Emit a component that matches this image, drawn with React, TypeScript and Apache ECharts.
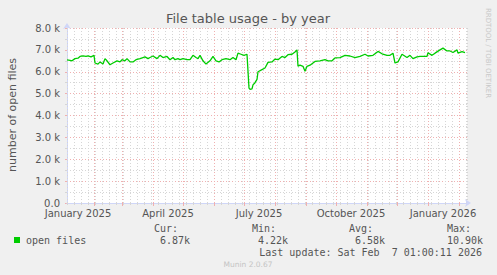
import React, { useEffect, useRef } from "react";
import * as echarts from "echarts";

const chartTitle = "File table usage - by year";
const yAxisTitle = "number of open files";
const rrdCredit = "RRDTOOL / TOBI OETIKER";
const footerText = "Munin 2.0.67";
const lastUpdate = "Last update: Sat Feb  7 01:00:11 2026";

const axisStart = "2025-01-05";
const axisEnd = "2026-02-09";

const sampleDates = [
  "2025-01-05", "2025-01-08", "2025-01-10", "2025-01-13", "2025-01-16", "2025-01-18", "2025-01-21", "2025-01-24",
  "2025-01-26", "2025-01-29", "2025-02-01", "2025-02-02", "2025-02-05", "2025-02-07", "2025-02-10", "2025-02-12",
  "2025-02-14", "2025-02-17", "2025-02-20", "2025-02-24", "2025-02-27", "2025-03-01", "2025-03-04", "2025-03-06",
  "2025-03-09", "2025-03-12", "2025-03-15", "2025-03-19", "2025-03-22", "2025-03-24", "2025-03-27", "2025-03-29",
  "2025-04-01", "2025-04-05", "2025-04-08", "2025-04-11", "2025-04-15", "2025-04-18", "2025-04-21", "2025-04-23",
  "2025-04-26", "2025-04-28", "2025-05-01", "2025-05-05", "2025-05-08", "2025-05-11", "2025-05-14", "2025-05-16",
  "2025-05-18", "2025-05-21", "2025-05-24", "2025-05-28", "2025-05-31", "2025-06-03", "2025-06-06", "2025-06-09",
  "2025-06-13", "2025-06-17", "2025-06-20", "2025-06-23", "2025-06-25", "2025-06-28", "2025-07-01", "2025-07-04",
  "2025-07-06", "2025-07-07", "2025-07-09", "2025-07-10", "2025-07-12", "2025-07-14", "2025-07-15", "2025-07-19",
  "2025-07-22", "2025-07-25", "2025-07-29", "2025-08-01", "2025-08-04", "2025-08-08", "2025-08-11", "2025-08-14",
  "2025-08-18", "2025-08-21", "2025-08-23", "2025-08-24", "2025-08-26", "2025-08-29", "2025-08-31", "2025-09-02",
  "2025-09-05", "2025-09-10", "2025-09-15", "2025-09-20", "2025-09-23", "2025-09-27", "2025-09-30", "2025-10-05",
  "2025-10-10", "2025-10-15", "2025-10-20", "2025-10-25", "2025-10-30", "2025-11-02", "2025-11-07", "2025-11-12",
  "2025-11-16", "2025-11-21", "2025-11-24", "2025-11-27", "2025-11-29", "2025-12-02", "2025-12-06", "2025-12-11",
  "2025-12-14", "2025-12-17", "2025-12-21", "2025-12-24", "2025-12-31", "2026-01-01", "2026-01-05", "2026-01-08",
  "2026-01-13", "2026-01-16", "2026-01-20", "2026-01-23", "2026-01-26", "2026-01-30", "2026-01-31", "2026-02-04",
  "2026-02-07",
];

const openFiles = [
  6540, 6520, 6500, 6600, 6620, 6700, 6730, 6700,
  6730, 6680, 6750, 6400, 6350, 6450, 6350, 6600,
  6500, 6320, 6400, 6500, 6450, 6550, 6500, 6600,
  6450, 6450, 6550, 6600, 6650, 6680, 6600, 6650,
  6720, 6600, 6750, 6650, 6700, 6550, 6650, 6550,
  6600, 6550, 6600, 6550, 6550, 6750, 6650, 6600,
  6750, 6500, 6350, 6500, 6700, 6500, 6450, 6550,
  6600, 6550, 6650, 6550, 6850, 6800, 6750, 6800,
  5250, 5200, 5220, 5400, 5500, 5650, 6000, 6100,
  6170, 6430, 6450, 6580, 6550, 6700, 6650, 6780,
  6800, 6900, 7000, 6250, 6300, 6250, 6020, 6250,
  6300, 6470, 6500, 6550, 6500, 6500, 6630, 6650,
  6750, 6720, 6650, 6700, 6800, 6720, 6750, 6930,
  6820, 6750, 6750, 6850, 6400, 6450, 6800, 6650,
  6750, 6600, 6680, 6700, 6700, 6870, 6750, 6850,
  7000, 7080, 6950, 6950, 6880, 7000, 6850, 6920,
  6870,
];

const monthStarts = [
  "2025-02-01", "2025-03-01", "2025-04-01", "2025-05-01", "2025-06-01", "2025-07-01", "2025-08-01",
  "2025-09-01", "2025-10-01", "2025-11-01", "2025-12-01", "2026-01-01", "2026-02-01",
];
const xLabelDates = ["2025-01-16", "2025-04-16", "2025-07-16", "2025-10-16", "2026-01-16"];
const xLabelTexts = ["January 2025", "April 2025", "July 2025", "October 2025", "January 2026"];

const yMax = 8000;
const yStep = 1000;

const legendName = "open files";
const statHeaders = ["Cur:", "Min:", "Avg:", "Max:"];
const statValues = ["6.87k", "4.22k", "6.58k", "10.90k"];

const DAY = 86400000;
const dayIndex = (s: string) => Math.round((Date.parse(s) - Date.parse(axisStart)) / DAY);

const LINE_COLOR = "#00cc00";
const FONT = "DejaVu Sans";
const MONO = "DejaVu Sans Mono";
const TEXT = "#555555";
const AXIS = "#cfd6f8";
const MGRID = "#f0b0b0";
const GRID = "#d6d6d6";

export default function App() {
  const ref = useRef<HTMLDivElement>(null);
  useEffect(() => {
    if (!ref.current) return;
    const chart = echarts.init(ref.current, undefined, { renderer: "svg" });
    const xMax = dayIndex(axisEnd);
    const monthDays = monthStarts.map(dayIndex);
    const labelDays = xLabelDates.map(dayIndex);
    const seriesData = sampleDates.map((d, i) => [dayIndex(d), openFiles[i]]);

    const statX = [154, 252, 349, 447];
    const statValX = [160, 258, 355, 447];

    const graphics: any[] = [
      {
        type: "text", x: 248, y: 18,
        style: { text: chartTitle, font: `13px "${FONT}"`, fill: TEXT, textAlign: "center", textVerticalAlign: "middle" },
      },
      {
        type: "text", x: 12, y: 115, rotation: Math.PI / 2,
        style: { text: yAxisTitle, font: `11px "${FONT}"`, fill: TEXT, textAlign: "center", textVerticalAlign: "middle" },
      },
      {
        type: "text", x: 488, y: 53, rotation: -Math.PI / 2,
        style: { text: rrdCredit, font: `7px "${FONT}"`, fill: "#c8c8c8", textAlign: "center", textVerticalAlign: "middle" },
      },
      { type: "rect", shape: { x: 14, y: 237, width: 6, height: 6 }, style: { fill: LINE_COLOR } },
      {
        type: "text", x: 26, y: 240,
        style: { text: legendName, font: `10px "${MONO}"`, fill: TEXT, textAlign: "left", textVerticalAlign: "middle" },
      },
      {
        type: "text", x: 482, y: 252,
        style: { text: lastUpdate, font: `10px "${MONO}"`, fill: TEXT, textAlign: "right", textVerticalAlign: "middle" },
      },
      {
        type: "text", x: 248, y: 264,
        style: { text: footerText, font: `7.5px "${FONT}"`, fill: "#c4c4c4", textAlign: "center", textVerticalAlign: "middle" },
      },
    ];
    statHeaders.forEach((h, i) => {
      graphics.push({
        type: "text", x: statX[i], y: 228,
        style: { text: h, font: `10px "${MONO}"`, fill: TEXT, textAlign: "left", textVerticalAlign: "middle" },
      });
      graphics.push({
        type: "text", x: statValX[i], y: 240,
        style: { text: statValues[i], font: `10px "${MONO}"`, fill: TEXT, textAlign: "left", textVerticalAlign: "middle" },
      });
    });

    chart.setOption({
      animation: false,
      backgroundColor: "#f0f0f0",
      grid: { left: 67, right: 30, top: 28, bottom: 72, show: true, backgroundColor: "#ffffff", borderWidth: 0 },
      xAxis: [
        {
          type: "value", min: 0, max: xMax, interval: 7,
          axisLine: { show: true, lineStyle: { color: AXIS, width: 1 }, symbol: ["none", "arrow"], symbolSize: [6, 6], symbolOffset: [0, 4] },
          axisTick: { show: true, length: 2, lineStyle: { color: GRID } },
          axisLabel: { show: false },
          splitLine: { show: true, lineStyle: { color: GRID, type: [1, 2], width: 1 } },
          z: 1,
        },
        {
          type: "value", min: 0, max: xMax, position: "bottom",
          axisLine: { show: false },
          axisTick: { show: true, length: 3, customValues: monthDays, lineStyle: { color: MGRID } },
          axisLabel: {
            show: true, customValues: labelDays, margin: 5,
            fontFamily: FONT, fontSize: 10, color: TEXT,
            formatter: (v: number) => {
              const k = labelDays.indexOf(Math.round(v));
              return k >= 0 ? xLabelTexts[k] : "";
            },
          },
          splitLine: { show: true, lineStyle: { color: MGRID, type: [1, 2], width: 1 } },
          z: 2,
        },
      ],
      yAxis: {
        type: "value", min: 0, max: yMax, interval: yStep,
        axisLine: { show: true, lineStyle: { color: AXIS, width: 1 }, symbol: ["none", "arrow"], symbolSize: [6, 6], symbolOffset: [0, 5] },
        axisTick: { show: true, length: 2, lineStyle: { color: MGRID } },
        minorTick: { show: true, splitNumber: 2, length: 2, lineStyle: { color: GRID } },
        axisLabel: {
          fontFamily: FONT, fontSize: 10, color: TEXT, margin: 7,
          formatter: (v: number) => (v === 0 ? "0.0" : (v / 1000).toFixed(1) + " k"),
        },
        splitLine: { show: true, lineStyle: { color: MGRID, type: [1, 2], width: 1 } },
        minorSplitLine: { show: true, lineStyle: { color: GRID, type: [1, 2], width: 1 } },
      },
      series: [
        {
          type: "line", name: legendName, data: seriesData, xAxisIndex: 0,
          showSymbol: false, symbol: "none",
          lineStyle: { color: LINE_COLOR, width: 1.3 },
          z: 5,
        },
      ],
      graphic: graphics,
    });
    return () => chart.dispose();
  }, []);
  return <div ref={ref} style={{ position: "absolute", left: 0, top: 0, width: 497, height: 275 }} />;
}
